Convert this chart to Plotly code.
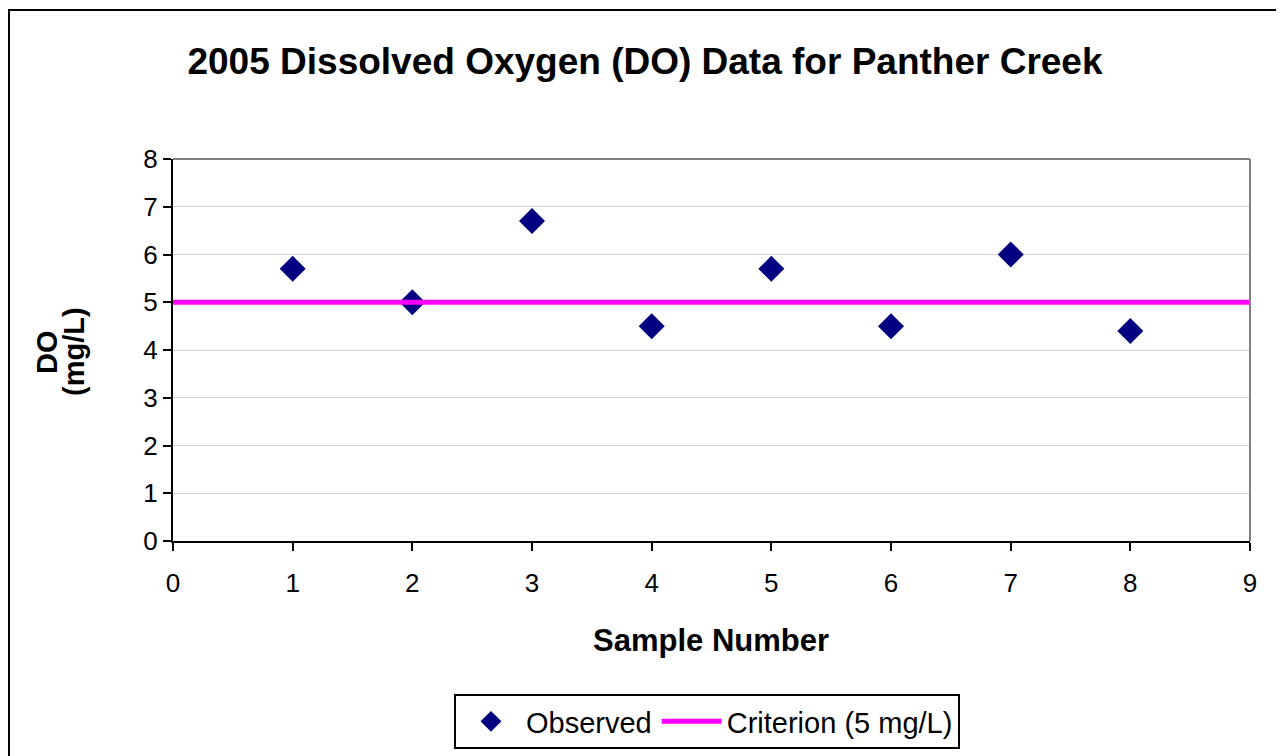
import plotly.graph_objects as go

sample_number = [1, 2, 3, 4, 5, 6, 7, 8]
observed_do = [5.7, 5.0, 6.7, 4.5, 5.7, 4.5, 6.0, 4.4]
criterion_x = [0, 9]
criterion_y = [5, 5]

FONT = "Liberation Sans, Arial, sans-serif"

# page layout (page pixels; the html body has an 8px margin)
OFF = 8
W, H = 1284 - OFF, 756 - OFF
L, R, T, B = 173, 1250, 159, 541  # plot area in page pixels


def px(x):
    return (x - L) / (R - L)


def py(y):
    return (B - y) / (B - T)


fig = go.Figure()
fig.add_trace(go.Scatter(
    x=sample_number, y=observed_do, mode="markers", name="Observed",
    marker=dict(symbol="diamond", size=20, color="#000080"),
))
fig.add_trace(go.Scatter(
    x=criterion_x, y=criterion_y, mode="lines", name="Criterion (5 mg/L)",
    line=dict(color="#FF00FF", width=5),
))

fig.update_layout(
    width=W, height=H,
    margin=dict(l=L - OFF, r=W - (R - OFF), t=T - OFF, b=H - (B - OFF), pad=0,
                autoexpand=False),
    paper_bgcolor="white", plot_bgcolor="white",
    font=dict(family=FONT, color="black", size=26),
    title=dict(text="<b>2005 Dissolved Oxygen (DO) Data for Panther Creek</b>",
               x=px(645), xref="paper", xanchor="center",
               y=1 - (61 - OFF) / H, yref="container", yanchor="middle",
               font=dict(size=37, family=FONT)),
    showlegend=True,
    legend=dict(orientation="h", x=px(707), xanchor="center",
                y=py(694), yanchor="top",
                bordercolor="black", borderwidth=2, bgcolor="white",
                font=dict(size=29, family=FONT), itemwidth=60,
                tracegroupgap=0),
    xaxis=dict(range=[0, 9], dtick=1, tick0=0, showgrid=False, zeroline=False,
               showline=True, linecolor="black", linewidth=2,
               ticks="outside", ticklen=8, tickwidth=2, tickcolor="black",
               tickfont=dict(size=26), ticklabelstandoff=10, automargin=False),
    yaxis=dict(range=[0, 8], dtick=1, tick0=0, showgrid=True, gridcolor="#D0D0D0",
               gridwidth=1, zeroline=False,
               showline=True, linecolor="black", linewidth=2,
               ticks="outside", ticklen=8, tickwidth=2, tickcolor="black",
               tickfont=dict(size=26), automargin=False),
    annotations=[
        dict(text="<b>Sample Number</b>", xref="paper", yref="paper",
             x=px(711), y=py(640), xanchor="center", yanchor="middle",
             showarrow=False, font=dict(size=31, family=FONT)),
        dict(text="<b>DO</b>", xref="paper", yref="paper", textangle=-90,
             x=px(47), y=py(352), xanchor="center", yanchor="middle",
             showarrow=False, font=dict(size=29, family=FONT)),
        dict(text="<b>(mg/L)</b>", xref="paper", yref="paper", textangle=-90,
             x=px(74), y=py(352), xanchor="center", yanchor="middle",
             showarrow=False, font=dict(size=29, family=FONT)),
    ],
    shapes=[
        dict(type="line", xref="paper", yref="paper", x0=0, x1=1, y0=1, y1=1,
             line=dict(color="#808080", width=2), layer="above"),
        dict(type="line", xref="paper", yref="paper", x0=1, x1=1, y0=0, y1=1,
             line=dict(color="#808080", width=2), layer="above"),
        dict(type="rect", xref="paper", yref="paper",
             x0=px(9), x1=px(1282), y0=py(770), y1=py(10),
             line=dict(color="black", width=2), layer="below"),
    ],
)

fig.write_html("out.html")
